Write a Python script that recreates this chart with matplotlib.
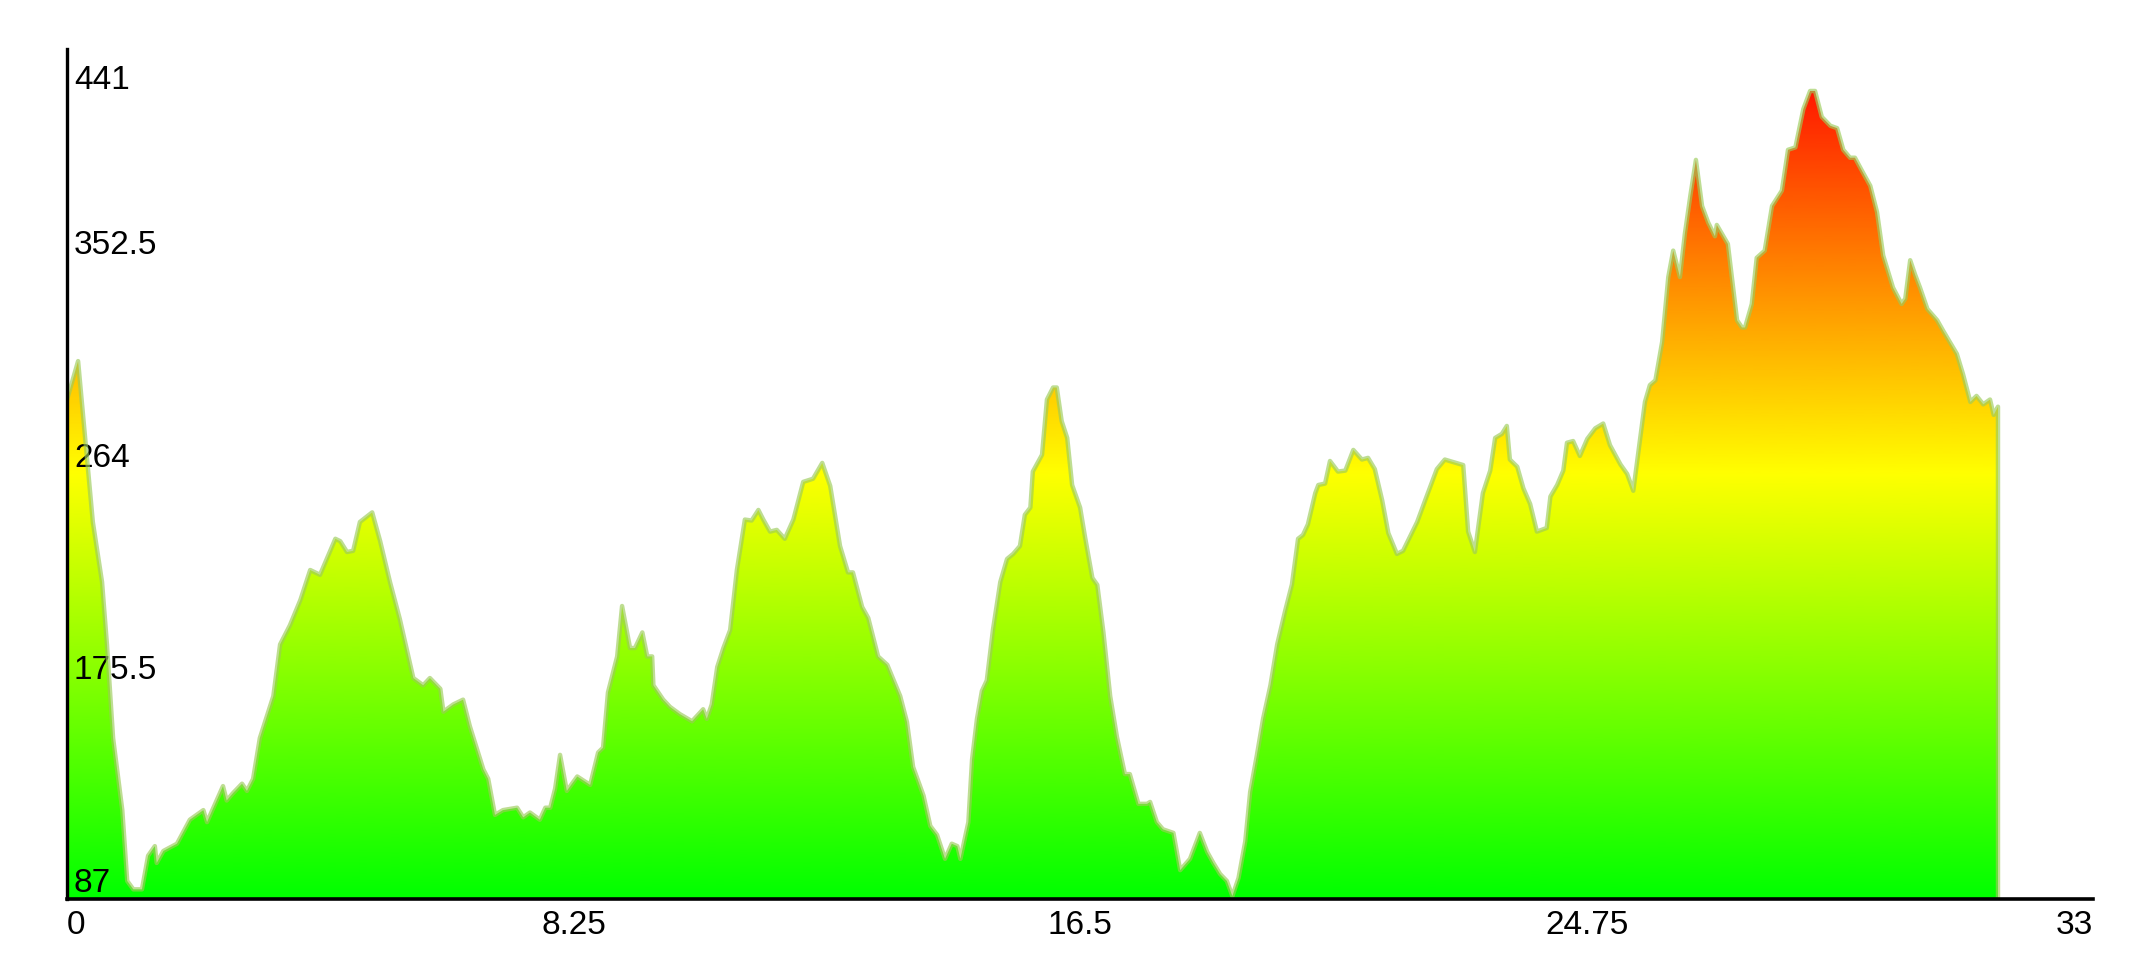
import numpy as np
import matplotlib
matplotlib.use("Agg")
import matplotlib.pyplot as plt
import matplotlib.transforms as mtransforms
from matplotlib import font_manager
from matplotlib.colors import LinearSegmentedColormap

# elevation profile (distance, elevation)
distance = [
    0.0, 0.18, 0.42, 0.57, 0.65, 0.75, 0.9, 0.98, 1.08, 1.22, 1.32, 1.43, 1.46, 1.57, 1.79,
    2.0, 2.22, 2.28, 2.54, 2.6, 2.7, 2.85, 2.93, 3.03, 3.14, 3.36, 3.47, 3.63, 3.8, 3.96,
    4.12, 4.23, 4.37, 4.45, 4.56, 4.66, 4.77, 4.97, 5.1, 5.26, 5.42, 5.64, 5.8, 5.91, 6.08,
    6.13, 6.29, 6.45, 6.56, 6.78, 6.86, 6.97, 7.1, 7.33, 7.43, 7.54, 7.7, 7.79, 7.87, 7.95,
    8.03, 8.14, 8.31, 8.52, 8.65, 8.73, 8.81, 8.96, 9.04, 9.17, 9.25, 9.37, 9.45, 9.53, 9.55,
    9.71, 9.82, 9.98, 10.18, 10.36, 10.42, 10.5, 10.59, 10.69, 10.8, 10.91, 11.04, 11.15, 11.26,
    11.34, 11.45, 11.56, 11.69, 11.83, 11.99, 12.15, 12.3, 12.43, 12.59, 12.72, 12.8, 12.95,
    13.05, 13.21, 13.36, 13.57, 13.68, 13.78, 13.95, 14.06, 14.17, 14.3, 14.41, 14.5, 14.55,
    14.68, 14.74, 14.82, 14.9, 14.98, 15.08, 15.2, 15.31, 15.41, 15.52, 15.6, 15.69, 15.73,
    15.88, 15.96, 16.06, 16.12, 16.2, 16.29, 16.37, 16.5, 16.58, 16.7, 16.78, 16.88, 16.99,
    17.1, 17.23, 17.31, 17.45, 17.59, 17.64, 17.75, 17.85, 18.02, 18.13, 18.29, 18.45, 18.57,
    18.67, 18.78, 18.89, 18.98, 19.08, 19.19, 19.27, 19.38, 19.48, 19.6, 19.71, 19.84, 19.95,
    20.05, 20.13, 20.21, 20.33, 20.38, 20.49, 20.57, 20.7, 20.82, 20.95, 21.09, 21.19, 21.3,
    21.42, 21.52, 21.66, 21.76, 21.99, 22.12, 22.31, 22.44, 22.74, 22.82, 22.93, 23.06, 23.18,
    23.26, 23.37, 23.45, 23.5, 23.62, 23.72, 23.83, 23.94, 24.1, 24.16, 24.27, 24.37, 24.43,
    24.53, 24.64, 24.76, 24.89, 25.02, 25.13, 25.3, 25.41, 25.51, 25.62, 25.7, 25.78, 25.87,
    25.98, 26.08, 26.16, 26.27, 26.35, 26.44, 26.53, 26.63, 26.73, 26.84, 26.87, 27.05, 27.2,
    27.28, 27.33, 27.44, 27.52, 27.65, 27.77, 27.93, 28.03, 28.15, 28.28, 28.39, 28.47, 28.58,
    28.72, 28.83, 28.93, 29.04, 29.12, 29.24, 29.37, 29.48, 29.58, 29.74, 29.88, 29.94, 30.02,
    30.1, 30.18, 30.3, 30.46, 30.56, 30.78, 30.88, 31.0, 31.1, 31.21, 31.32, 31.38, 31.45,
]
elevation = [
    295, 311, 244, 219, 193, 154, 124, 94.5, 91, 91, 105, 109, 102, 107, 110,
    120, 124, 119, 134, 128, 131, 135, 132, 137, 154, 171.5, 193, 201, 211.5, 224,
    222, 228.6, 237, 236, 231.5, 232, 244, 248, 236, 219, 203.6, 179, 176, 179, 174.5,
    165, 168, 170, 159, 141, 137, 122, 124, 125, 121, 123, 120, 125, 125, 133,
    147, 132, 138, 134.5, 148, 150, 173, 188, 209, 191.5, 191.5, 198, 188, 188, 176,
    170, 167, 164, 161, 166, 162, 168, 183.6, 191.5, 199, 224, 245, 244.6, 249,
    245, 240, 240.7, 237, 245, 260.7, 262, 268.6, 259, 234, 223, 223, 208.6,
    204, 188, 184.5, 171.5, 160.7, 142, 130, 117.4, 113.7, 103.7, 110, 109, 103.7,
    119, 145, 162, 173.6, 178, 199, 219, 228.6, 230.7, 234, 247, 250, 265,
    272, 295, 300, 300, 286, 279, 259.4, 250, 237.8, 220.7, 217.8, 198, 171.5,
    154.5, 139, 139, 126.6, 126.6, 127.4, 119, 116, 114.5, 99, 103.7, 114.5, 106.6,
    102, 97.4, 94.5, 88.2, 95.7, 111, 131.6, 147, 162, 176, 193, 207, 218,
    237, 238.6, 243, 256, 259.4, 260, 269.4, 265, 265.4, 274, 270, 270.7, 266,
    253, 239.4, 230.7, 232, 244, 253, 266, 270, 267.7, 240, 231.5, 256, 265.4,
    279, 280.7, 284, 270, 267, 258, 251.5, 240, 241.5, 254.6, 259.4, 265.4, 277,
    277.7, 271.5, 278.6, 283, 285, 276, 268, 264, 257, 278.6, 294, 301, 303,
    319, 346, 357, 346, 364, 380, 394.8, 375.6, 368.7, 363, 367.7, 359.8, 328,
    325, 325, 334.8, 354, 357, 375.6, 382, 399, 400, 416, 423.5, 423.5, 412.7,
    409, 408, 399, 395.7, 395.7, 390, 384, 373, 355, 341.6, 334.8, 337, 353,
    347, 341.6, 332.7, 328, 323.5, 314, 305.6, 294, 296.5, 293, 295, 288.6, 292,
]

x_ticks = [0, 8.25, 16.5, 24.75, 33]
x_labels = ["0", "8.25", "16.5", "24.75", "33"]
y_ticks = [87, 175.5, 264, 352.5, 441]
y_labels = ["87", "175.5", "264", "352.5", "441"]

names = {f.name for f in font_manager.fontManager.ttflist}
family = "Liberation Sans Narrow" if "Liberation Sans Narrow" in names else "Liberation Sans"
plt.rcParams["font.family"] = [family, "DejaVu Sans"]

x = np.array(distance)
y = np.array(elevation)
ymin, ymax = y_ticks[0], y_ticks[-1]

fig = plt.figure(figsize=(21.42, 9.75), dpi=100)
ax = fig.add_axes([0.0313, 0.0780, 0.9459, 0.8718])
ax.set_xlim(0, 33)
ax.set_ylim(ymin, ymax)

# green -> yellow -> red gradient, clipped to the area under the profile
cmap = LinearSegmentedColormap.from_list("elev", ["#00ff00", "#ffff00", "#ff0000"])
grad = np.linspace(0, 1, 512).reshape(-1, 1)
img = ax.imshow(grad, cmap=cmap, aspect="auto", origin="lower",
                extent=[0, 33, ymin, ymax], interpolation="bilinear", zorder=1)
area = ax.fill_between(x, y, ymin, facecolor="none", edgecolor="none")
clip = area.get_paths()[0]
img.set_clip_path(clip, transform=ax.transData)

# pale outline along the top of the profile
ax.plot(np.append(x, x[-1]), np.append(y, ymin), color="#9ccc5a", alpha=0.65,
        lw=3.2, solid_joinstyle="round", zorder=2)

for side in ["top", "right"]:
    ax.spines[side].set_visible(False)
ax.spines["left"].set_linewidth(2.4)
ax.spines["bottom"].set_linewidth(2.6)
ax.spines["left"].set_zorder(3)
ax.spines["bottom"].set_zorder(3)

ax.set_xticks(x_ticks)
ax.set_xticklabels(x_labels, fontsize=24)
ax.tick_params(axis="x", length=0, pad=8)
xl = ax.get_xticklabels()
xl[0].set_ha("left")
xl[-1].set_ha("right")

ax.set_yticks(y_ticks)
ax.set_yticklabels(y_labels, fontsize=24)
ax.tick_params(axis="y", length=0, pad=-5)
ylabs = ax.get_yticklabels()
for lab in ylabs:
    lab.set_ha("left")
    lab.set_va("bottom")
# top label sits just under the axis end
ylabs[-1].set_va("top")
ylabs[-1].set_transform(ylabs[-1].get_transform() +
                        mtransforms.ScaledTranslation(0, -16 / 100, fig.dpi_scale_trans))

fig.savefig("out.png", dpi=100)
